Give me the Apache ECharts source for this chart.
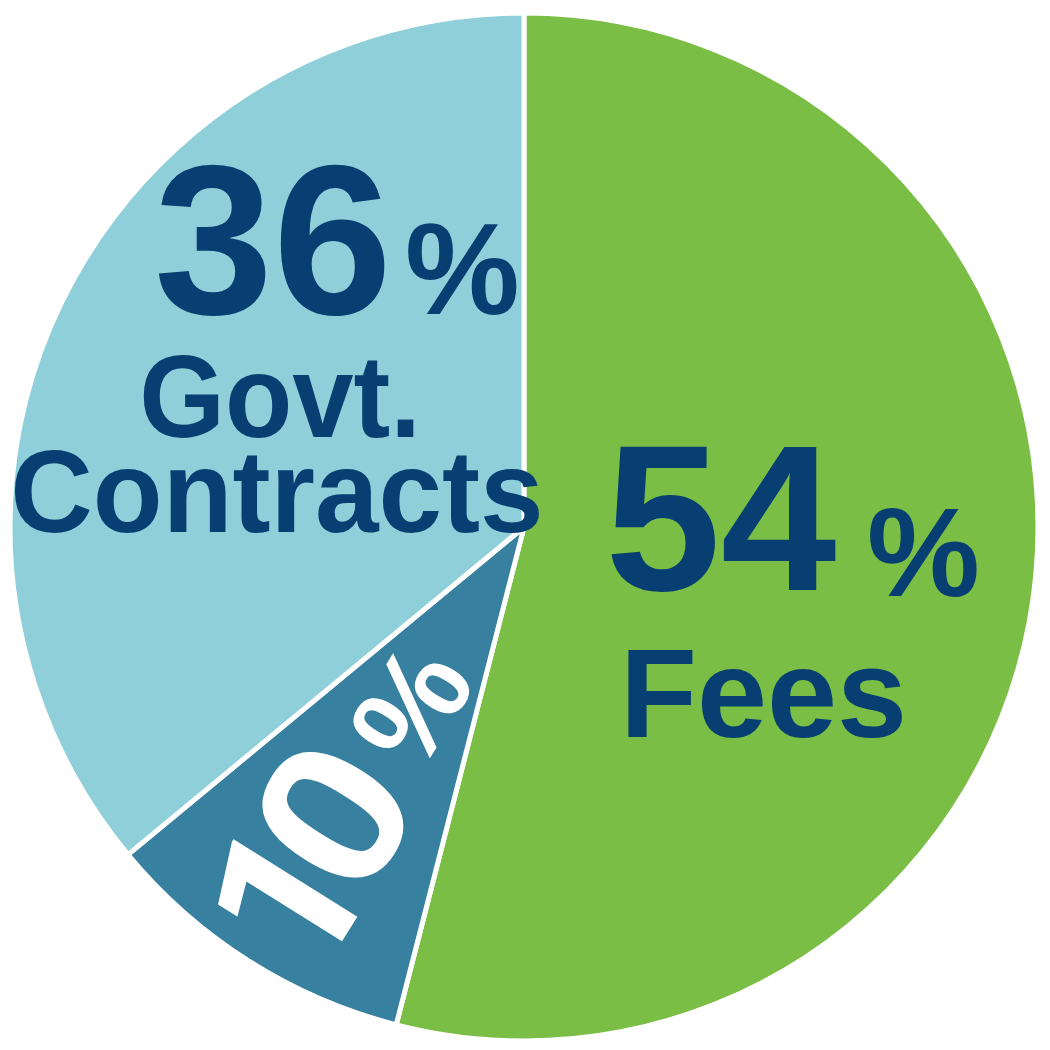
<!DOCTYPE html>
<html>
<head>
    <meta charset="utf-8" />
    <title>Revenue sources</title>
    <script src="https://cdn.jsdelivr.net/npm/echarts@6/dist/echarts.min.js"></script>
    <style type="text/css">
        * {
            margin: 0;
            padding: 0;
        }
        html, body {
            width: 100%;
            height: 100%;
            background: #ffffff;
        }
        #pieChart {
            width: 1050px;
            height: 1050px;
        }
    </style>
</head>
<body>
    <div id="pieChart"></div>
</body>
</html>
<script type="text/javascript">
    // slices, clockwise from 12 o'clock
    var names = ['Fees', 'Other', 'Govt. Contracts'];
    var values = [54, 10, 36];
    var colors = ['#7bbe45', '#3780a0', '#8fcfd9'];

    var navy = '#073f72';
    var face = '"Liberation Sans", Arial, Helvetica, sans-serif';

    // y is the line middle; caps sit ~0.07em above it
    function label(text, x, y, size, align, fill, sx, fam) {
        return {
            type: 'text',
            x: x,
            y: y,
            z: 100,
            scaleX: sx || 1,
            silent: true,
            style: {
                text: text,
                fill: fill || navy,
                font: 'bold ' + size + 'px ' + (fam || face),
                textAlign: align,
                textVerticalAlign: 'middle'
            }
        };
    }

    var pieData = [];
    for (var i = 0; i < values.length; i++) {
        pieData.push({ name: names[i], value: values[i], itemStyle: { color: colors[i] } });
    }

    var small = String(values[1]);

    var myChart = echarts.init(document.getElementById('pieChart'));

    var option = {
        backgroundColor: '#ffffff',
        animation: false,
        series: [{
            type: 'pie',
            z: 1,
            center: [524, 527],
            radius: 514,
            startAngle: 90,
            clockwise: true,
            label: { show: false },
            labelLine: { show: false },
            emphasis: { disabled: true },
            itemStyle: { borderColor: '#ffffff', borderWidth: 5 },
            data: pieData
        }],
        graphic: {
            elements: [
                // Govt. Contracts
                label(values[2] + '', 154, 255, 214, 'left'),
                label('%', 405, 278, 129, 'left'),
                label('Govt.', 280, 405, 116, 'center', navy, 0.95),
                label('Contracts', 277, 500, 116, 'center', navy, 0.985),
                // Fees
                label(values[0] + '', 605, 533, 208, 'left'),
                label('%', 867, 561, 127, 'left'),
                label('Fees', 620, 702, 126, 'left'),
                // small slice, rotated; origin sits on the centre of the "0"
                {
                    type: 'group',
                    x: 335,
                    y: 816,
                    z: 100,
                    rotation: 58 * Math.PI / 180,
                    silent: true,
                    children: [
                        label(small.charAt(0), -95, 21, 205, 'center', '#ffffff', 1, 'Roboto, "Liberation Sans", sans-serif'),
                        label(small.charAt(1), 0, 12, 205, 'center', '#ffffff', 1.08),
                        label('%', 134, 15, 126, 'center', '#ffffff')
                    ]
                }
            ]
        }
    };

    myChart.setOption(option);
</script>
